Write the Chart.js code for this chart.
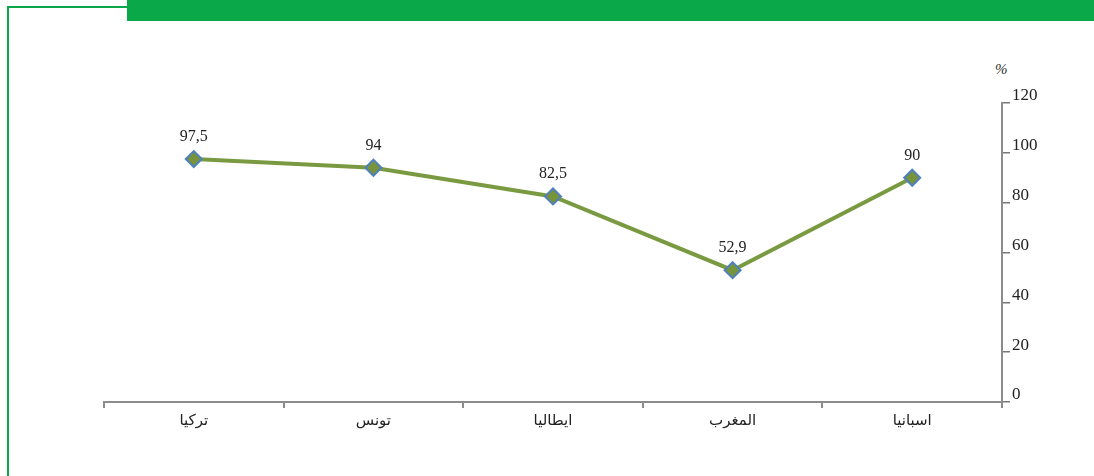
<!DOCTYPE html>
<html>
<head>
<meta charset="utf-8">
<script src="https://cdn.jsdelivr.net/npm/chart.js@4/dist/chart.umd.min.js"></script>
<style>
  body { margin: 0; background: #fff; }
  #wrap { position: relative; width: 1094px; height: 476px; overflow: hidden; }
  #frame { position: absolute; left: 7px; top: 6px; width: 1200px; height: 600px;
           border-left: 2px solid #0BA84A; border-top: 2px solid #0BA84A; }
  #banner { position: absolute; left: 127px; top: 0; width: 967px; height: 21px; background: #0BA84A; }
  #pct { position: absolute; left: 995px; top: 61px; font: italic 15px "Liberation Serif", serif; color: #333; }
  canvas { position: absolute; left: 0; top: 0; }
</style>
</head>
<body>
<div id="wrap">
  <div id="frame"></div>
  <div id="banner"></div>
  <span id="pct">%</span>
  <canvas id="grafico" width="1094" height="476"></canvas>
</div>
<script>
// Datos
const paises = ['تركيا', 'تونس', 'ايطاليا', 'المغرب', 'اسبانيا'];
const valores = [97.5, 94, 82.5, 52.9, 90];
const ticksY = [0, 20, 40, 60, 80, 100, 120];

const gris = '#8c8c8c';

// Etiquetas encima de cada punto
const etiquetas = {
  id: 'etiquetas',
  afterDatasetsDraw(chart) {
    const ctx = chart.ctx;
    const meta = chart.getDatasetMeta(0);
    ctx.save();
    ctx.font = '16px "Liberation Serif", serif';
    ctx.fillStyle = '#222';
    ctx.textAlign = 'center';
    ctx.textBaseline = 'alphabetic';
    meta.data.forEach((pt, i) => {
      const txt = String(valores[i]).replace('.', ',');
      ctx.fillText(txt, pt.x, pt.y - 18);
    });
    ctx.restore();
  }
};

new Chart(document.getElementById('grafico').getContext('2d'), {
  type: 'line',
  data: {
    labels: paises,
    datasets: [{
      data: valores,
      borderColor: '#7A9A42',
      borderWidth: 4,
      pointStyle: 'rectRot',
      pointRadius: 8,
      pointBackgroundColor: '#77933C',
      pointBorderColor: '#4F81BD',
      pointBorderWidth: 2,
      tension: 0
    }]
  },
  options: {
    responsive: false,
    animation: false,
    layout: { padding: { left: 104, top: 103, right: 0, bottom: 0 } },
    plugins: { legend: { display: false }, tooltip: { enabled: false } },
    scales: {
      x: {
        offset: true,
        grid: { offset: true, drawOnChartArea: false, tickLength: 6, color: gris, lineWidth: 2 },
        border: { color: gris, width: 2 },
        ticks: { color: '#222', font: { family: '"DejaVu Sans", sans-serif', size: 15 }, padding: 4 },
        afterFit: s => { s.height = 74; }
      },
      y: {
        position: 'right',
        min: 0, max: 120,
        afterBuildTicks: s => { s.ticks = ticksY.map(v => ({ value: v })); },
        grid: { drawOnChartArea: false, tickLength: 8, color: '#777', lineWidth: 1.5 },
        border: { color: gris, width: 2 },
        ticks: { color: '#222', font: { family: '"Liberation Serif", serif', size: 17 }, padding: 2, labelOffset: -7 },
        afterFit: s => { s.width = 92; }
      }
    }
  },
  plugins: [etiquetas]
});
</script>
</body>
</html>
